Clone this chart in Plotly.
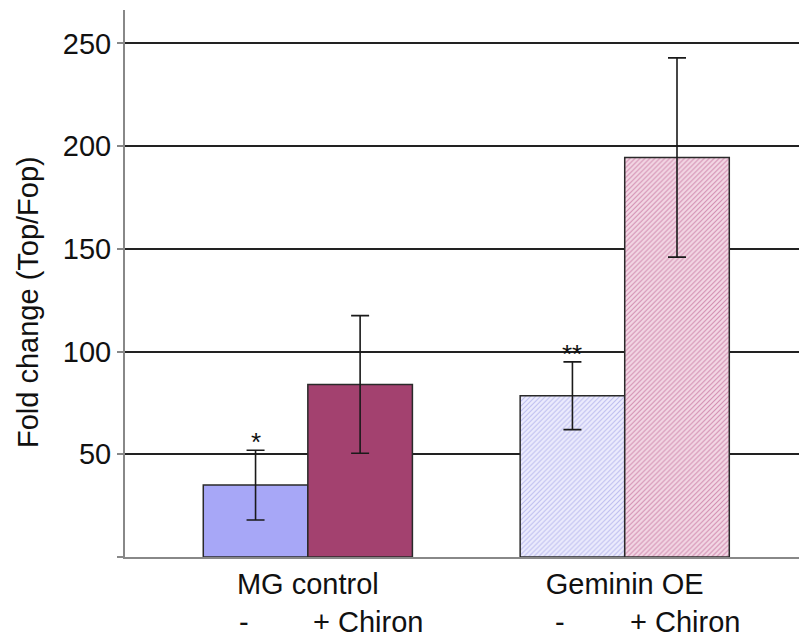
import plotly.graph_objects as go

groups = ["MG control", "Geminin OE"]
conditions = ["-", "+ Chiron"]
minus_vals = [35, 78.5]
minus_err = [17, 16.5]
plus_vals = [84, 194.5]
plus_err = [33.5, 48.5]
stars = ["*", "**"]
y_ticks = [0, 50, 100, 150, 200, 250]
y_ticklabels = ["", "50", "100", "150", "200", "250"]
y_title = "Fold change (Top/Fop)"

font = "Liberation Sans, Arial, sans-serif"
fs = 29
x = list(range(len(groups)))

# per-bar styles: (fill colour, hatch shape, hatch colour)
minus_styles = [("#a7a7f7", "", "#a7a7f7"), ("#ececfd", "/", "#bdbdef")]
plus_styles = [("#a3416f", "", "#a3416f"), ("#f3d8e5", "/", "#d28cb0")]

fig = go.Figure()
for cond, vals, errs, styles in [("minus", minus_vals, minus_err, minus_styles),
                                 ("plus", plus_vals, plus_err, plus_styles)]:
    for i in x:
        fill, shape, fg = styles[i]
        fig.add_trace(go.Bar(
            x=[i], y=[vals[i]], offsetgroup=cond,
            error_y=dict(type="data", array=[errs[i]], color="#1a1a1a", thickness=1.6, width=9),
            marker=dict(
                color=fill,
                line=dict(color="#2a2a2a", width=1.5),
                pattern=dict(shape=shape, fillmode="overlay", fgcolor=fg,
                             fgopacity=1, size=3.5, solidity=0.3),
            ),
            showlegend=False,
        ))

bargap = 0.34
half = (1 - bargap) / 4
annotations = []
for i, g in enumerate(groups):
    annotations.append(dict(x=i - half, y=minus_vals[i] + minus_err[i], text=stars[i],
                            showarrow=False, yanchor="bottom", yshift=-9,
                            font=dict(family=font, size=26, color="#111")))
    annotations.append(dict(x=i - half, y=0, text=conditions[0], showarrow=False,
                            yanchor="top", yshift=-47, xshift=-12,
                            font=dict(family=font, size=fs, color="#111")))
    annotations.append(dict(x=i + half, y=0, text=conditions[1], showarrow=False,
                            yanchor="top", yshift=-47, xshift=8,
                            font=dict(family=font, size=fs, color="#111")))
annotations.append(dict(xref="paper", yref="paper", x=-0.144, y=0.466, text=y_title,
                        textangle=-90, showarrow=False, xanchor="center", yanchor="middle",
                        font=dict(family=font, size=fs, color="#111")))

fig.update_layout(
    width=799, height=640,
    margin=dict(l=125, r=0, t=10, b=83),
    paper_bgcolor="white", plot_bgcolor="white",
    barmode="group", bargap=bargap, bargroupgap=0,
    font=dict(family=font, size=fs, color="#111"),
    annotations=annotations,
    xaxis=dict(
        tickvals=x, ticktext=groups, range=[-0.577, 1.55],
        showgrid=False, showline=True, linecolor="#888", linewidth=1.5,
        ticks="", tickfont=dict(family=font, size=fs, color="#111"),
        zeroline=False,
    ),
    yaxis=dict(
        range=[0, 266.3], tickvals=y_ticks, ticktext=y_ticklabels,
        showgrid=True, gridcolor="#222", gridwidth=1.6,
        showline=True, linecolor="#888", linewidth=2,
        ticks="outside", ticklen=6, tickcolor="#888", tickwidth=1.5,
        zeroline=False,
        tickfont=dict(family=font, size=fs, color="#111"),
    ),
)

fig.write_html("out.html")
